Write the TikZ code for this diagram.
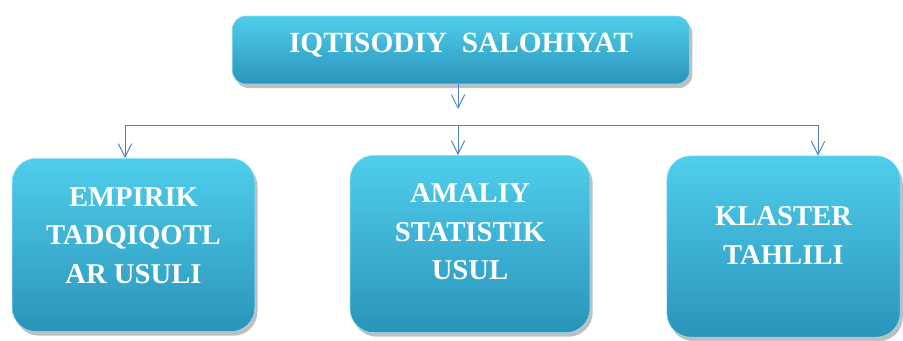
\documentclass[tikz,border=0pt]{standalone}
\usepackage{fontspec}
\setmainfont{Liberation Serif}
\usetikzlibrary{arrows.meta,shadows}
\definecolor{boxtop}{RGB}{80,206,236}
\definecolor{boxmid}{RGB}{55,180,218}
\definecolor{boxbot}{RGB}{42,148,186}
\definecolor{linkblue}{RGB}{79,129,189}
\tikzset{
  box/.style={rectangle, rounded corners=18pt, draw=boxtop!60!white, line width=0.4pt,
    top color=boxtop, middle color=boxmid, bottom color=boxbot,
    drop shadow={opacity=0.5, shadow xshift=2pt, shadow yshift=-3pt}},
  lbl/.style={text=white, align=center, font=\fontsize{21.5}{29}\selectfont\bfseries},
  link/.style={draw=linkblue, line width=0.7pt},
  arr/.style={link, -{Straight Barb[length=10pt,width=10pt,line width=0.7pt]}}
}
\begin{document}
\begin{tikzpicture}[x=0.75pt,y=-0.75pt]
\useasboundingbox (0,0) rectangle (903,340);
\node[box, minimum width=343pt, minimum height=51pt, rounded corners=10pt] (top) at (461,50) {};
\node[lbl, font=\fontsize{22}{29}\selectfont\bfseries] at ([yshift=4pt]top.center) {IQTISODIY\ \ SALOHIYAT};
\node[box, minimum width=182pt, minimum height=130pt] (left) at (133.5,245) {};
\node[lbl] at ([yshift=7pt]left.center) {EMPIRIK\\TADQIQOTL\\AR USULI};
\node[box, minimum width=180pt, minimum height=133pt] (mid) at (470,244) {};
\node[lbl] at ([yshift=9pt]mid.center) {AMALIY\\STATISTIK\\USUL};
\node[box, minimum width=175pt, minimum height=136pt] (right) at (783.5,246.5) {};
\node[lbl] at ([yshift=8pt]right.center) {KLASTER\\TAHLILI};
\coordinate (tip) at (458,109);
\coordinate (bl) at (125,125);
\coordinate (bm) at (458,125);
\coordinate (br) at (818,125);
\draw[arr] (top.south -| tip) -- (tip);
\draw[link] (bl) -- (br);
\draw[arr] (bl) -- (bl |- left.north);
\draw[arr] (bm) -- (bm |- mid.north);
\draw[arr] (br) -- (br |- right.north);
\end{tikzpicture}
\end{document}
